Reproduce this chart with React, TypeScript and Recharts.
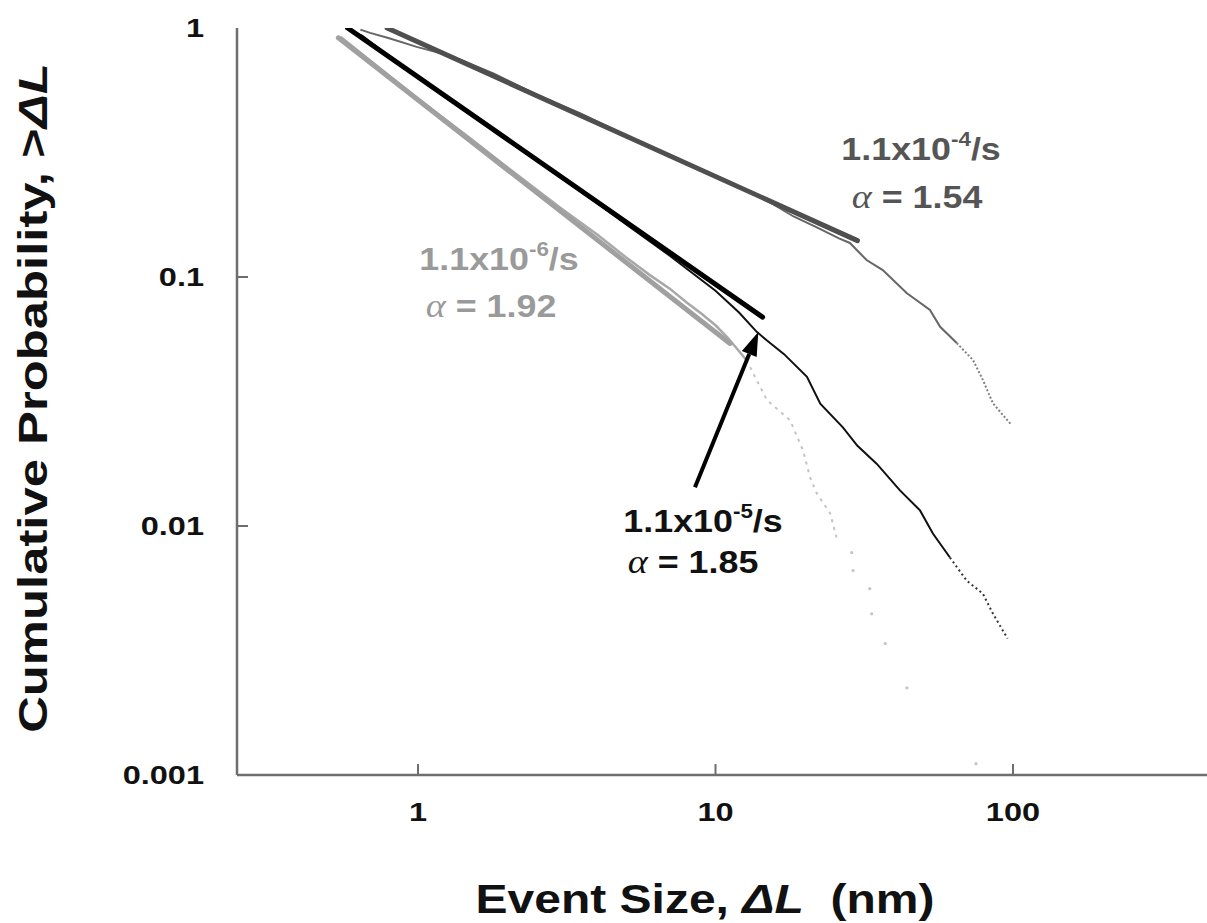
import { LineChart, Line, XAxis, YAxis, ReferenceLine, ReferenceDot } from "recharts";

// ---- data ----
const xTicks = [1, 10, 100];
const yTicks = [0.001, 0.01, 0.1, 1];

// 1.1x10^-4 /s
const fast = [
  { x: 0.64, y: 0.985 }, { x: 0.69, y: 0.956 }, { x: 0.8, y: 0.91 }, { x: 0.99, y: 0.84 },
  { x: 1.3, y: 0.77 }, { x: 1.8, y: 0.655 }, { x: 2.5, y: 0.54 }, { x: 3.5, y: 0.455 },
  { x: 5, y: 0.37 }, { x: 7, y: 0.305 }, { x: 10, y: 0.255 }, { x: 14, y: 0.212 },
  { x: 18.3, y: 0.175 }, { x: 22, y: 0.158 }, { x: 26, y: 0.143 }, { x: 28.3, y: 0.137 },
  { x: 32.2, y: 0.117 }, { x: 36.5, y: 0.1066 }, { x: 43.9, y: 0.0862 }, { x: 52.6, y: 0.0737 },
  { x: 56.9, y: 0.0631 }, { x: 64.7, y: 0.0543 },
];
const fastEnd = [
  { x: 64.7, y: 0.0543 }, { x: 73.4, y: 0.0464 }, { x: 79.3, y: 0.0385 }, { x: 85.6, y: 0.0311 }, { x: 99, y: 0.0254 },
];
const fastFit = [{ x: 0.787, y: 1 }, { x: 30, y: 0.14 }];

// 1.1x10^-5 /s
const mid = [
  { x: 0.57, y: 1 }, { x: 0.65, y: 0.93 }, { x: 0.8, y: 0.77 }, { x: 1, y: 0.63 }, { x: 1.5, y: 0.45 },
  { x: 2, y: 0.355 }, { x: 3, y: 0.252 }, { x: 4, y: 0.198 }, { x: 5, y: 0.163 }, { x: 7, y: 0.122 },
  { x: 10, y: 0.088 }, { x: 12, y: 0.072 }, { x: 13.76, y: 0.0602 }, { x: 14.86, y: 0.0557 },
  { x: 17, y: 0.049 }, { x: 20.3, y: 0.0397 }, { x: 22.5, y: 0.031 }, { x: 26.8, y: 0.0249 },
  { x: 30, y: 0.021 }, { x: 34.8, y: 0.0178 }, { x: 41.7, y: 0.0139 }, { x: 48.7, y: 0.01155 },
  { x: 53.8, y: 0.00933 }, { x: 61.4, y: 0.00747 },
];
const midEnd = [
  { x: 61.4, y: 0.00747 }, { x: 69.9, y: 0.00603 }, { x: 79.2, y: 0.00535 }, { x: 85.7, y: 0.00444 }, { x: 95.9, y: 0.00353 },
];
const midFit = [{ x: 0.58, y: 1 }, { x: 14.4, y: 0.069 }];

// 1.1x10^-6 /s
const slow = [
  { x: 0.55, y: 0.92 }, { x: 0.7, y: 0.73 }, { x: 1, y: 0.52 }, { x: 1.5, y: 0.36 }, { x: 2, y: 0.275 },
  { x: 3, y: 0.19 }, { x: 4, y: 0.148 }, { x: 5, y: 0.12 }, { x: 6, y: 0.102 }, { x: 7, y: 0.09 },
  { x: 8, y: 0.079 }, { x: 9, y: 0.071 }, { x: 10, y: 0.064 }, { x: 11, y: 0.057 }, { x: 12.7, y: 0.0464 },
];
const slowTail = [
  { x: 12.7, y: 0.0464 }, { x: 14.9, y: 0.032 }, { x: 17.8, y: 0.0266 }, { x: 19.7, y: 0.0201 },
  { x: 20.8, y: 0.01566 }, { x: 21.9, y: 0.01352 }, { x: 24.3, y: 0.01123 }, { x: 25.5, y: 0.009 },
];
const slowDots = [
  { x: 28.7, y: 0.00782 }, { x: 29, y: 0.00662 }, { x: 33, y: 0.0056 }, { x: 33.5, y: 0.00444 },
  { x: 37.2, y: 0.00337 }, { x: 44, y: 0.00224 }, { x: 75.1, y: 0.00111 },
];
const slowFit = [{ x: 0.54, y: 0.913 }, { x: 11.19, y: 0.0541 }];

// annotation anchors (data coordinates)
const labels = [
  { x: 49.1, y: 0.296, exp: "-4", alpha: "1.54", color: "#555555", gap: 48, dx: -4 },
  { x: 1.872, y: 0.1067, exp: "-6", alpha: "1.92", color: "#9a9a9a", gap: 47, dx: -8 },
  { x: 9.08, y: 0.00944, exp: "-5", alpha: "1.85", color: "#111111", gap: 41, dx: -10 },
];
const arrow = [{ x: 8.53, y: 0.01432 }, { x: 13.93, y: 0.0602 }];

const AXIS = "#6e6e6e";
const TEXT = "#111";
const FONT = "'Liberation Sans', Arial, sans-serif";

function BottomTick({ x, y, payload }: any) {
  return (
    <g>
      <line x1={x} x2={x} y1={y} y2={y - 11} stroke={AXIS} strokeWidth={2} />
      <text transform={`translate(${x},${y + 46}) scale(1.25,1)`} textAnchor="middle" fontSize={26} fontWeight="bold" fill={TEXT} fontFamily={FONT}>
        {payload.value}
      </text>
    </g>
  );
}

function TopTick({ x, y }: any) {
  return <line x1={x} x2={x} y1={y} y2={y + 11} stroke={AXIS} strokeWidth={2} />;
}

function LeftTick({ x, y, payload }: any) {
  const v = payload.value;
  const inner = v !== 1 && v !== 0.001;
  return (
    <g>
      {inner && <line x1={x} x2={x + 11} y1={y} y2={y} stroke={AXIS} strokeWidth={2} />}
      <text transform={`translate(${x - 33},${y + 9}) scale(1.25,1)`} textAnchor="end" fontSize={26} fontWeight="bold" fill={TEXT} fontFamily={FONT}>
        {String(v)}
      </text>
    </g>
  );
}

function Arrow({ x1, y1, x2, y2 }: any) {
  const ang = Math.atan2(y2 - y1, x2 - x1);
  const len = 24;
  const half = 8;
  const bx = x2 - len * Math.cos(ang);
  const by = y2 - len * Math.sin(ang);
  const px = -Math.sin(ang) * half;
  const py = Math.cos(ang) * half;
  return (
    <g>
      <line x1={x1} y1={y1} x2={bx} y2={by} stroke="#000" strokeWidth={4} />
      <polygon points={`${x2},${y2} ${bx + px},${by + py} ${bx - px},${by - py}`} fill="#000" />
    </g>
  );
}

function RateLabel({ cx, cy, exp, alpha, color, gap, dx }: any) {
  return (
    <g fontFamily={FONT} fontWeight="bold" fill={color}>
      <text transform={`translate(${cx},${cy}) scale(1.12,1)`} textAnchor="middle" fontSize={32}>
        1.1x10
        <tspan fontSize={20} dy={-14}>{exp}</tspan>
        <tspan dy={14}>/s</tspan>
      </text>
      <text transform={`translate(${cx + dx},${cy + gap}) scale(1.12,1)`} textAnchor="middle" fontSize={32}>
        <tspan fontStyle="italic" fontWeight="normal" fontFamily="'Liberation Serif', serif" fontSize={34}>α</tspan>
        <tspan> = {alpha}</tspan>
      </text>
    </g>
  );
}

export default function App() {
  return (
    <div style={{ position: "absolute", left: 0, top: 0, background: "#fff" }}>
      <LineChart width={1207} height={923} margin={{ top: 28, right: 0, bottom: 0, left: 0 }}>
        <XAxis
          xAxisId={0}
          type="number"
          dataKey="x"
          scale="log"
          domain={[0.2463, 449]}
          allowDataOverflow
          ticks={xTicks}
          height={148}
          tickSize={0}
          tickMargin={0}
          tickLine={false}
          axisLine={{ stroke: AXIS, strokeWidth: 2.5 }}
          tick={<BottomTick />}
        />
        <XAxis
          xAxisId="top"
          orientation="top"
          type="number"
          dataKey="x"
          scale="log"
          domain={[0.2463, 449]}
          allowDataOverflow
          ticks={xTicks}
          height={0}
          tickSize={0}
          tickMargin={0}
          tickLine={false}
          axisLine={{ stroke: AXIS, strokeWidth: 2.5 }}
          tick={<TopTick />}
        />
        <YAxis
          yAxisId={0}
          type="number"
          dataKey="y"
          scale="log"
          domain={[0.001, 1]}
          allowDataOverflow
          ticks={yTicks}
          width={237}
          tickSize={0}
          tickMargin={0}
          tickLine={false}
          axisLine={{ stroke: AXIS, strokeWidth: 2.5 }}
          tick={<LeftTick />}
        />

        {/* measured distributions */}
        <Line data={fast} dataKey="y" stroke="#666" strokeWidth={2} dot={false} isAnimationActive={false} />
        <Line data={fastEnd} dataKey="y" stroke="#808080" strokeWidth={2} strokeDasharray="2 2" dot={false} isAnimationActive={false} />
        <Line data={mid} dataKey="y" stroke="#111" strokeWidth={2} dot={false} isAnimationActive={false} />
        <Line data={midEnd} dataKey="y" stroke="#333" strokeWidth={2} strokeDasharray="2 3" dot={false} isAnimationActive={false} />
        <Line data={slow} dataKey="y" stroke="#a8a8a8" strokeWidth={2.5} dot={false} isAnimationActive={false} />
        <Line data={slowTail} dataKey="y" stroke="#c4c4c4" strokeWidth={2} strokeDasharray="3 5" dot={false} isAnimationActive={false} />
        <Line data={slowDots} dataKey="y" stroke="none" dot={{ r: 1.6, fill: "#c4c4c4", stroke: "none" }} isAnimationActive={false} />

        {/* power-law fits */}
        <Line data={fastFit} dataKey="y" stroke="#4f4f4f" strokeWidth={5} strokeLinecap="round" dot={false} isAnimationActive={false} />
        <Line data={midFit} dataKey="y" stroke="#000" strokeWidth={5} strokeLinecap="round" dot={false} isAnimationActive={false} />
        <Line data={slowFit} dataKey="y" stroke="#a0a0a0" strokeWidth={5} strokeLinecap="round" dot={false} isAnimationActive={false} />

        <ReferenceLine segment={arrow} ifOverflow="visible" shape={(p: any) => <Arrow {...p} />} />
        {labels.map((l) => (
          <ReferenceDot
            key={l.exp}
            x={l.x}
            y={l.y}
            r={0}
            ifOverflow="visible"
            shape={(p: any) => <RateLabel {...p} {...l} />}
          />
        ))}

        <text transform="translate(47,398) rotate(-90) scale(1.27,1)" textAnchor="middle" fontSize={40} fontWeight="bold" fill={TEXT} fontFamily={FONT}>
          Cumulative Probability, &gt;<tspan fontStyle="italic">ΔL</tspan>
        </text>
        <text transform="translate(705,913) scale(1.2,1)" textAnchor="middle" fontSize={40} fontWeight="bold" fill={TEXT} fontFamily={FONT}>
          Event Size, <tspan fontStyle="italic">ΔL</tspan>{"\u00a0 (nm)"}
        </text>
      </LineChart>
    </div>
  );
}
